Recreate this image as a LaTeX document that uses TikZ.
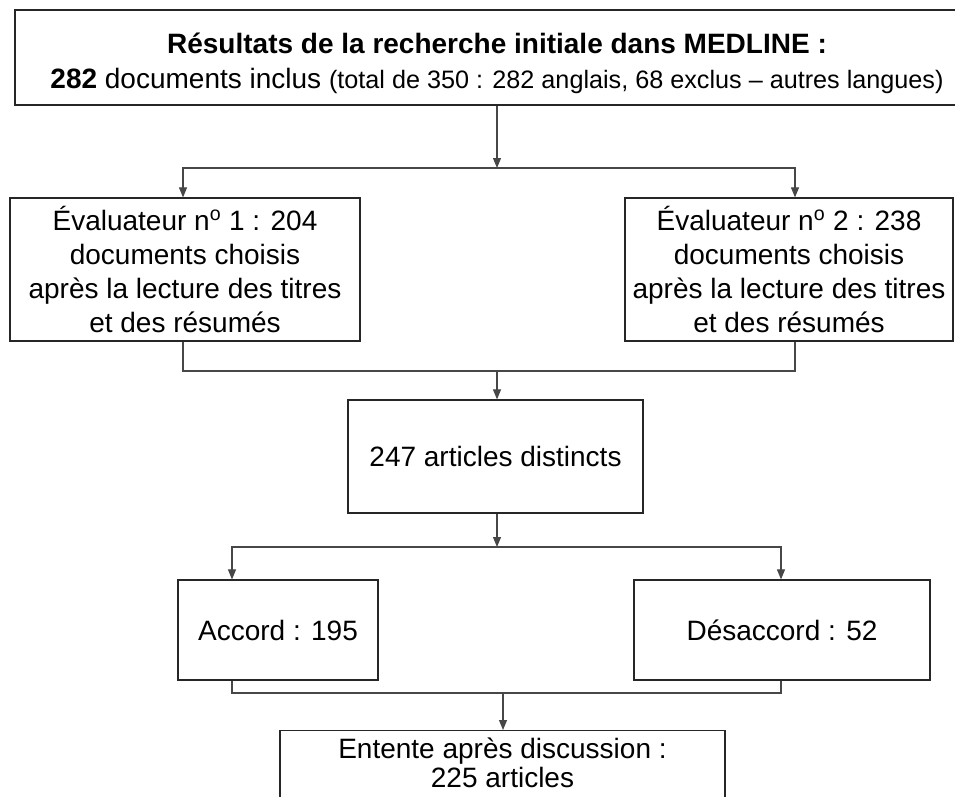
\documentclass[tikz,border=0pt]{standalone}
\usepackage{fontspec}
\setmainfont{Liberation Sans}
\usetikzlibrary{arrows.meta}
\begin{document}
\begin{tikzpicture}[x=0.75pt,y=-0.75pt,
  box/.style={draw=black!85, line width=0.9pt, rectangle, inner sep=0pt, align=center,
    font=\fontsize{21pt}{25.5pt}\selectfont},
  conn/.style={draw=black!72, line width=0.8pt},
  arr/.style={conn, -{Triangle[length=7.5pt,width=6pt]}}]
\useasboundingbox (0,0) rectangle (955,796);
\fill[white] (0,0) rectangle (955,796);

% boxes
\node[box, minimum width=723pt, minimum height=71.25pt] (top) at (497,57.5)
  {\rule{0pt}{24pt}\textbf{Résultats de la recherche initiale dans MEDLINE :}\\[0.5pt]
   \textbf{282} documents inclus {\fontsize{18.9pt}{22pt}\selectfont(total de 350 : 282 anglais, 68 exclus – autres langues)}};
\node[box, minimum width=262.5pt, minimum height=107.25pt] (e1) at (185,269.5)
  {Évaluateur n\textsuperscript{o} 1 : 204\\documents choisis\\après la lecture des titres\\et des résumés};
\node[box, minimum width=246pt, minimum height=107.25pt] (e2) at (789,269.5)
  {Évaluateur n\textsuperscript{o} 2 : 238\\documents choisis\\après la lecture des titres\\et des résumés};
\node[box, minimum width=221.25pt, minimum height=84.75pt] (mid) at (495.5,456.5)
  {247 articles distincts};
\node[box, minimum width=150pt, minimum height=75pt] (acc) at (278,630)
  {Accord : 195};
\node[box, minimum width=222pt, minimum height=75pt] (des) at (782,630)
  {Désaccord : 52};
\node[box, minimum width=333.75pt, inner ysep=5.5pt, anchor=north,
  font=\fontsize{21pt}{22pt}\selectfont] (fin) at (502.5,730)
  {Entente après discussion :\\225 articles\\[8pt]};

% junction coordinates
\coordinate (j1) at (497,168);
\coordinate (b1L) at (183,168);
\coordinate (b1R) at (795,168);
\coordinate (j2) at (497,371);
\coordinate (b2L) at (183,371);
\coordinate (b2R) at (795,371);
\coordinate (j3) at (497,547);
\coordinate (b3L) at (232,547);
\coordinate (b3R) at (781,547);
\coordinate (j4) at (503,693);
\coordinate (b4L) at (232,693);
\coordinate (b4R) at (781,693);

% connectors
\draw[arr] (j1 |- top.south) -- (j1);
\draw[arr] (j1) -- (b1L) -- (b1L |- e1.north);
\draw[arr] (j1) -- (b1R) -- (b1R |- e2.north);

\draw[conn] (b2L |- e1.south) -- (b2L) -- (b2R) -- (b2R |- e2.south);
\draw[arr] (j2) -- (j2 |- mid.north);

\draw[arr] (j3 |- mid.south) -- (j3);
\draw[arr] (j3) -- (b3L) -- (b3L |- acc.north);
\draw[arr] (j3) -- (b3R) -- (b3R |- des.north);

\draw[conn] (b4L |- acc.south) -- (b4L) -- (b4R) -- (b4R |- des.south);
\draw[arr] (j4) -- (j4 |- fin.north);
\end{tikzpicture}
\end{document}
